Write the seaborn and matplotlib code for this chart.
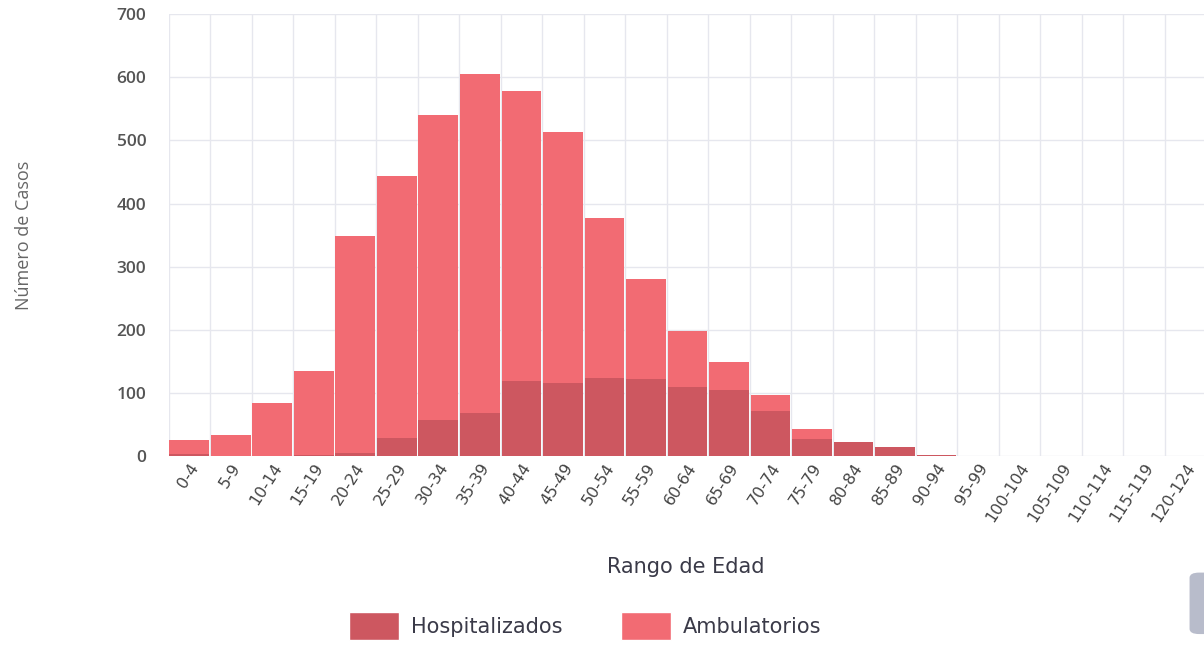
import numpy as np
import pandas as pd
import seaborn as sns
import matplotlib.pyplot as plt
from matplotlib.patches import Patch, FancyBboxPatch
from matplotlib.ticker import MultipleLocator, FixedLocator

# data
rangos = ['0-4', '5-9', '10-14', '15-19', '20-24', '25-29', '30-34', '35-39',
          '40-44', '45-49', '50-54', '55-59', '60-64', '65-69', '70-74', '75-79',
          '80-84', '85-89', '90-94', '95-99', '100-104', '105-109', '110-114',
          '115-119', '120-124']
ambulatorios = [25, 33, 84, 135, 348, 444, 540, 606, 579, 513, 378, 280, 198,
                149, 97, 43, 20, 13, 2, 1, 0, 0, 0, 0, 0]
hospitalizados = [4, 1, 1, 2, 5, 28, 58, 68, 119, 116, 124, 122, 109, 105, 71,
                  27, 22, 15, 2, 1, 0, 0, 0, 0, 0]

COLOR_AMB = '#F26B73'
COLOR_HOSP = '#CD5760'

df = pd.DataFrame({'rango': rangos, 'amb': ambulatorios, 'hosp': hospitalizados})

sns.set_style('white')
plt.rcParams['font.family'] = ['Open Sans', 'DejaVu Sans']

fig = plt.figure(figsize=(12.04, 6.47), dpi=100)
ax = fig.add_axes([0.14, 0.295, 0.862, 0.683])

sns.barplot(data=df, x='rango', y='amb', order=rangos, color=COLOR_AMB,
            width=0.96, linewidth=0, saturation=1, ax=ax, zorder=2)
sns.barplot(data=df, x='rango', y='hosp', order=rangos, color=COLOR_HOSP,
            width=0.96, linewidth=0, saturation=1, ax=ax, zorder=3)

ax.set_xlim(-0.5, len(rangos) - 0.5)
ax.set_ylim(0, 700)
ax.yaxis.set_major_locator(MultipleLocator(100))
ax.xaxis.set_minor_locator(FixedLocator(np.arange(-0.5, len(rangos), 1)))
ax.grid(axis='y', which='major', color='#E6E7EE', linewidth=1, zorder=0)
ax.grid(axis='x', which='minor', color='#E6E7EE', linewidth=1, zorder=0)
ax.grid(axis='x', which='major', visible=False)
ax.set_axisbelow(True)
sns.despine(ax=ax, left=True, bottom=True)

ax.tick_params(axis='y', length=0, pad=16, labelsize=12.5, labelcolor='#555555')
ax.tick_params(axis='x', which='both', length=0, pad=3, labelsize=11.5, labelcolor='#444444')
plt.setp(ax.get_xticklabels(), rotation=57, ha='right', rotation_mode='anchor',
         family=['DejaVu Sans'])
for lbl in ax.get_yticklabels():
    lbl.set_fontweight('semibold')

ax.set_xlabel('Rango de Edad', fontsize=15, color='#3A3A48', family=['DejaVu Sans'])
ax.set_ylabel('Número de Casos', fontsize=13, color='#666666')
ax.xaxis.set_label_coords(0.4986, -0.228)
ax.yaxis.set_label_coords(-0.131, 0.5)

handles = [Patch(facecolor=COLOR_HOSP, label='Hospitalizados'),
           Patch(facecolor=COLOR_AMB, label='Ambulatorios')]
fig.legend(handles=handles, loc='center', bbox_to_anchor=(0.486, 0.032), ncol=2,
           frameon=False, handlelength=2.4, handleheight=1.68,
           handletextpad=0.58, columnspacing=2.8, labelcolor='#3A3A48',
           prop={'family': 'DejaVu Sans', 'size': 15})

# grey tab at the right edge of the screenshot
fig.patches.append(FancyBboxPatch((0.988, 0.02), 0.03, 0.095, boxstyle='round,pad=0,rounding_size=0.008',
                                  transform=fig.transFigure, facecolor='#B8BCCB', edgecolor='none'))

fig.savefig('out.png', dpi=100)
